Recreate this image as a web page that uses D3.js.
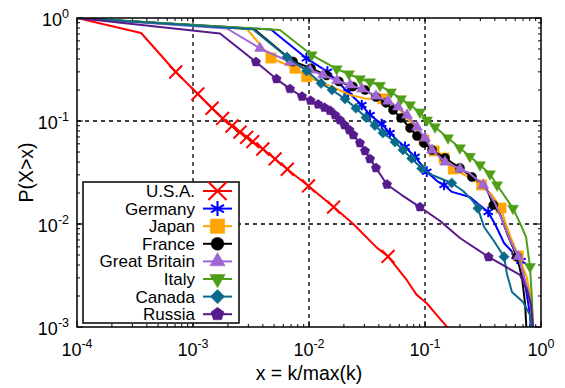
<!DOCTYPE html>
<html>
<head>
<meta charset="utf-8">
<script src="https://cdn.jsdelivr.net/npm/d3@7"></script>
<style>
  body { margin: 0; background: #fff; }
  text { font-family: "Liberation Sans", Arial, sans-serif; fill: #000; }
</style>
</head>
<body>
<svg id="chart" width="565" height="388"></svg>
<script>
// tick values and their exponent labels
const xTicks = [1e-4, 1e-3, 1e-2, 1e-1, 1];
const xTickExp = ['-4', '-3', '-2', '-1', '0'];
const yTicks = [1e-3, 1e-2, 1e-1, 1];
const yTickExp = ['-3', '-2', '-1', '0'];

const countries = ['U.S.A.', 'Germany', 'Japan', 'France', 'Great Britain', 'Italy', 'Canada', 'Russia'];
const colors = ['#ff0000', '#0000ff', '#ffa500', '#000000', '#a066d3', '#4f9e17', '#0b6a8b', '#551a8b'];

// [x, P(X>x), has marker]
const usa = [[1e-4, 1], [3.57e-4, 0.715], [7.1e-4, 0.299, 1], [0.0011, 0.183, 1], [0.00146, 0.133, 1],
  [0.0018, 0.106, 1], [0.00217, 0.0894, 1], [0.00254, 0.078, 1], [0.0029, 0.0695, 1], [0.00327, 0.063, 1],
  [0.004, 0.0535, 1], [0.0051, 0.0428, 1], [0.0065, 0.034, 1], [0.0099, 0.0234, 1], [0.0163, 0.0146, 1],
  [0.0241, 0.01], [0.0384, 0.0059], [0.048, 0.00484, 1], [0.0695, 0.00286], [0.0848, 0.00205],
  [0.1035, 0.0017], [0.126, 0.00131], [0.155, 0.001], [0.17, 0.0008]];
const germany = [[1e-4, 1], [0.0047, 0.773], [0.0095, 0.406, 1], [0.0144, 0.301, 1], [0.0217, 0.191, 1],
  [0.0285, 0.143, 1], [0.0336, 0.114, 1], [0.0423, 0.0935, 1], [0.0499, 0.0765, 1], [0.0574, 0.0654],
  [0.0673, 0.056, 1], [0.082, 0.045, 1], [0.1035, 0.0322, 1], [0.127, 0.0261], [0.146, 0.0239, 1],
  [0.171, 0.0205], [0.244, 0.0183], [0.281, 0.016], [0.351, 0.0131, 1], [0.409, 0.00957], [0.48, 0.00654],
  [0.609, 0.00489, 1], [0.672, 0.00437, 1], [0.743, 0.00229], [0.804, 0.00131], [0.82, 0.00093]];
const japan = [[1e-4, 1], [0.00292, 0.782], [0.0047, 0.409, 1], [0.00757, 0.325, 1], [0.00955, 0.269, 1],
  [0.0152, 0.219], [0.0226, 0.179], [0.0316, 0.164], [0.0434, 0.164, 1], [0.0609, 0.128], [0.0788, 0.0915],
  [0.098, 0.0654, 1], [0.12, 0.0512, 1], [0.146, 0.0437, 1], [0.175, 0.0342, 1], [0.244, 0.028],
  [0.308, 0.0239, 1], [0.378, 0.0191], [0.452, 0.0143, 1], [0.49, 0.0105], [0.551, 0.00731],
  [0.637, 0.00489, 1], [0.753, 0.00306], [0.832, 0.00171], [0.859, 0.00093]];
const france = [[1e-4, 1], [0.00336, 0.782], [0.00728, 0.378, 1], [0.0104, 0.325, 1], [0.0142, 0.277, 1],
  [0.0181, 0.242, 1], [0.0239, 0.216, 1], [0.0304, 0.2, 1], [0.0378, 0.171, 1], [0.0461, 0.15, 1],
  [0.053, 0.128, 1], [0.0621, 0.107, 1], [0.0743, 0.0855, 1], [0.0853, 0.0715, 1], [0.098, 0.0611, 1],
  [0.115, 0.0523, 1], [0.149, 0.0437, 1], [0.2, 0.035, 1], [0.254, 0.0286, 1], [0.316, 0.0245],
  [0.342, 0.0214], [0.388, 0.0153, 1], [0.443, 0.0125], [0.52, 0.00764], [0.621, 0.00482, 1],
  [0.686, 0.00299], [0.728, 0.00171], [0.75, 0.00093]];
const britain = [[1e-4, 1], [0.00196, 0.791], [0.00378, 0.508, 1], [0.00686, 0.374, 1], [0.0102, 0.313, 1],
  [0.0132, 0.28, 1], [0.0174, 0.247, 1], [0.0226, 0.224, 1], [0.0286, 0.205, 1], [0.0378, 0.175, 1],
  [0.048, 0.156, 1], [0.0585, 0.137, 1], [0.07, 0.114, 1], [0.0853, 0.0875, 1], [0.1, 0.0684, 1],
  [0.115, 0.0523, 1], [0.149, 0.04, 1], [0.2, 0.0342, 1], [0.244, 0.031], [0.318, 0.0239, 1],
  [0.401, 0.016], [0.473, 0.0102], [0.541, 0.007], [0.637, 0.00482, 1], [0.728, 0.00286],
  [0.804, 0.00191], [0.848, 0.00093]];
const italy = [[1e-4, 1], [0.00562, 0.765], [0.01055, 0.437, 1], [0.01733, 0.32, 1], [0.0221, 0.286, 1],
  [0.0275, 0.256, 1], [0.0336, 0.239, 1], [0.0409, 0.221, 1], [0.0509, 0.191, 1], [0.0621, 0.164, 1],
  [0.0743, 0.143, 1], [0.0905, 0.122, 1], [0.104, 0.102, 1], [0.122, 0.0875, 1], [0.158, 0.0684, 1],
  [0.2, 0.0547, 1], [0.244, 0.0452, 1], [0.298, 0.0374, 1], [0.363, 0.0306, 1], [0.418, 0.0239, 1],
  [0.574, 0.0142, 1], [0.659, 0.0102], [0.743, 0.00748], [0.804, 0.00385, 1], [0.836, 0.00183],
  [0.853, 0.00093]];
const canada = [[1e-4, 1], [0.00329, 0.777], [0.00646, 0.418, 1], [0.00955, 0.306, 1], [0.0127, 0.232, 1],
  [0.0158, 0.2, 1], [0.0204, 0.164, 1], [0.0254, 0.133, 1], [0.031, 0.108, 1], [0.037, 0.0904, 1],
  [0.0434, 0.0765, 1], [0.0551, 0.0625, 1], [0.0646, 0.0523, 1], [0.0768, 0.0433, 1], [0.0937, 0.0346, 1],
  [0.115, 0.0299], [0.17, 0.025, 1], [0.213, 0.0209], [0.259, 0.0167], [0.286, 0.0142, 1],
  [0.323, 0.00935], [0.393, 0.00684], [0.48, 0.00482, 1], [0.509, 0.00327], [0.562, 0.00219],
  [0.7, 0.00175], [0.804, 0.00131], [0.828, 0.00093]];
const russia = [[1e-4, 1], [0.00171, 0.707], [0.00349, 0.374, 1], [0.00525, 0.256, 1], [0.00686, 0.205, 1],
  [0.0087, 0.173, 1], [0.0103, 0.158, 1], [0.012, 0.145, 1], [0.0136, 0.135, 1], [0.0152, 0.126, 1],
  [0.0168, 0.114, 1], [0.0185, 0.102, 1], [0.0202, 0.0915, 1], [0.0223, 0.0818, 1], [0.0241, 0.0731, 1],
  [0.0275, 0.0611, 1], [0.0304, 0.0512, 1], [0.0336, 0.0428, 1], [0.0378, 0.035, 1], [0.047, 0.0242, 1],
  [0.063, 0.0191], [0.0905, 0.0146, 1], [0.135, 0.0107], [0.2, 0.00731], [0.353, 0.00479, 1],
  [0.5, 0.00383], [0.659, 0.0032], [0.757, 0.00229], [0.82, 0.00164], [0.859, 0.00093]];

const series = [usa, germany, japan, france, britain, italy, canada, russia];

const svg = d3.select('#chart');
const pLeft = 77, pRight = 541, pTop = 18, pBottom = 327;

const x = d3.scaleLog().domain([1e-4, 1]).range([pLeft, pRight]);
const y = d3.scaleLog().domain([1e-3, 1]).range([pBottom, pTop]);

// pentagon path, radius r
function pentagon(r) {
  const p = d3.range(5).map(function (i) {
    const a = -Math.PI / 2 + i * 2 * Math.PI / 5;
    return [r * Math.cos(a), r * Math.sin(a)];
  });
  return 'M' + p.join('L') + 'Z';
}

// marker for each series: path, rotation, filled?
const markers = [
  { d: d3.symbol(d3.symbolTimes, 110)(), rot: 0, fill: false },
  { d: d3.symbol(d3.symbolAsterisk, 80)(), rot: 0, fill: false },
  { d: d3.symbol(d3.symbolSquare, 105)(), rot: 0, fill: true },
  { d: d3.symbol(d3.symbolCircle, 66)(), rot: 0, fill: true },
  { d: d3.symbol(d3.symbolTriangle, 52)(), rot: 0, fill: true },
  { d: d3.symbol(d3.symbolTriangle, 52)(), rot: 180, fill: true },
  { d: d3.symbol(d3.symbolSquare, 52)(), rot: 45, fill: true },
  { d: pentagon(4.9), rot: 0, fill: true }
];

// grid
const grid = svg.append('g')
  .attr('stroke', '#000')
  .attr('stroke-width', 1.3)
  .attr('stroke-dasharray', '4,4');
grid.selectAll('.gx')
  .data(xTicks.slice(1, -1))
  .enter().append('line')
  .attr('x1', function (d) { return x(d); })
  .attr('x2', function (d) { return x(d); })
  .attr('y1', pTop).attr('y2', pBottom);
grid.selectAll('.gy')
  .data(yTicks.slice(1, -1))
  .enter().append('line')
  .attr('y1', function (d) { return y(d); })
  .attr('y2', function (d) { return y(d); })
  .attr('x1', pLeft).attr('x2', pRight);

// minor + major ticks on all four sides
const xMinor = [];
for (let e = -4; e < 0; e++) for (let m = 2; m < 10; m++) xMinor.push(m * Math.pow(10, e));
const yMinor = [];
for (let e = -3; e < 0; e++) for (let m = 2; m < 10; m++) yMinor.push(m * Math.pow(10, e));

const ticks = svg.append('g').attr('stroke', '#000').attr('stroke-width', 1);
xMinor.forEach(function (d) {
  ticks.append('line').attr('x1', x(d)).attr('x2', x(d)).attr('y1', pBottom).attr('y2', pBottom - 3);
  ticks.append('line').attr('x1', x(d)).attr('x2', x(d)).attr('y1', pTop).attr('y2', pTop + 3);
});
xTicks.forEach(function (d) {
  ticks.append('line').attr('x1', x(d)).attr('x2', x(d)).attr('y1', pBottom).attr('y2', pBottom - 6);
  ticks.append('line').attr('x1', x(d)).attr('x2', x(d)).attr('y1', pTop).attr('y2', pTop + 6);
});
yMinor.forEach(function (d) {
  ticks.append('line').attr('y1', y(d)).attr('y2', y(d)).attr('x1', pLeft).attr('x2', pLeft + 3);
  ticks.append('line').attr('y1', y(d)).attr('y2', y(d)).attr('x1', pRight).attr('x2', pRight - 3);
});
yTicks.forEach(function (d) {
  ticks.append('line').attr('y1', y(d)).attr('y2', y(d)).attr('x1', pLeft).attr('x2', pLeft + 6);
  ticks.append('line').attr('y1', y(d)).attr('y2', y(d)).attr('x1', pRight).attr('x2', pRight - 6);
});

// tick labels
xTicks.forEach(function (d, i) {
  const t = svg.append('text')
    .attr('x', x(d)).attr('y', 356)
    .attr('text-anchor', 'middle')
    .style('font-size', '18px');
  t.append('tspan').text('10');
  t.append('tspan').attr('dy', -8).style('font-size', '12.5px').text(xTickExp[i]);
});
yTicks.forEach(function (d, i) {
  const t = svg.append('text')
    .attr('x', 69).attr('y', y(d) + 8)
    .attr('text-anchor', 'end')
    .style('font-size', '18px');
  t.append('tspan').text('10');
  t.append('tspan').attr('dy', -8).style('font-size', '12.5px').text(yTickExp[i]);
});

// axis titles
svg.append('text')
  .attr('x', (pLeft + pRight) / 2).attr('y', 380)
  .attr('text-anchor', 'middle')
  .style('font-size', '19.5px')
  .text('x = k/max(k)');
svg.append('text')
  .attr('transform', 'translate(33,' + ((pTop + pBottom) / 2) + ') rotate(-90)')
  .attr('text-anchor', 'middle')
  .style('font-size', '19.5px')
  .text('P(X>x)');

// clip
svg.append('clipPath').attr('id', 'clip')
  .append('rect').attr('x', pLeft).attr('y', pTop).attr('width', pRight - pLeft).attr('height', pBottom - pTop);

const line = d3.line()
  .x(function (d) { return x(d[0]); })
  .y(function (d) { return y(d[1]); });

const plot = svg.append('g').attr('clip-path', 'url(#clip)');
series.forEach(function (s, i) {
  const g = plot.append('g');
  g.append('path')
    .attr('d', line(s))
    .attr('fill', 'none')
    .attr('stroke', colors[i])
    .attr('stroke-width', 2)
    .attr('stroke-linejoin', 'round');
  g.selectAll('.m')
    .data(s.filter(function (d) { return d[2]; }))
    .enter().append('path')
    .attr('d', markers[i].d)
    .attr('transform', function (d) {
      return 'translate(' + x(d[0]) + ',' + y(d[1]) + ') rotate(' + markers[i].rot + ')';
    })
    .attr('fill', markers[i].fill ? colors[i] : 'none')
    .attr('stroke', colors[i])
    .attr('stroke-width', markers[i].fill ? 0.5 : 2);
});

// legend
const legend = svg.append('g');
legend.append('rect')
  .attr('x', 83).attr('y', 182).attr('width', 156).attr('height', 141)
  .attr('fill', '#fff').attr('stroke', '#000').attr('stroke-width', 1.5);
countries.forEach(function (c, i) {
  const cy = 191 + i * 17.6;
  legend.append('text')
    .attr('x', 195).attr('y', cy + 6)
    .attr('text-anchor', 'end')
    .style('font-size', '17px')
    .text(c);
  legend.append('line')
    .attr('x1', 203).attr('x2', 232).attr('y1', cy).attr('y2', cy)
    .attr('stroke', colors[i]).attr('stroke-width', 2);
  legend.append('path')
    .attr('d', markers[i].d)
    .attr('transform', 'translate(217.5,' + cy + ') scale(1.4) rotate(' + markers[i].rot + ')')
    .attr('fill', markers[i].fill ? colors[i] : 'none')
    .attr('stroke', colors[i])
    .attr('stroke-width', markers[i].fill ? 0.4 : 1.5);
});

// frame
svg.append('rect')
  .attr('x', pLeft).attr('y', pTop).attr('width', pRight - pLeft).attr('height', pBottom - pTop)
  .attr('fill', 'none').attr('stroke', '#000').attr('stroke-width', 1.5);
</script>
</body>
</html>
